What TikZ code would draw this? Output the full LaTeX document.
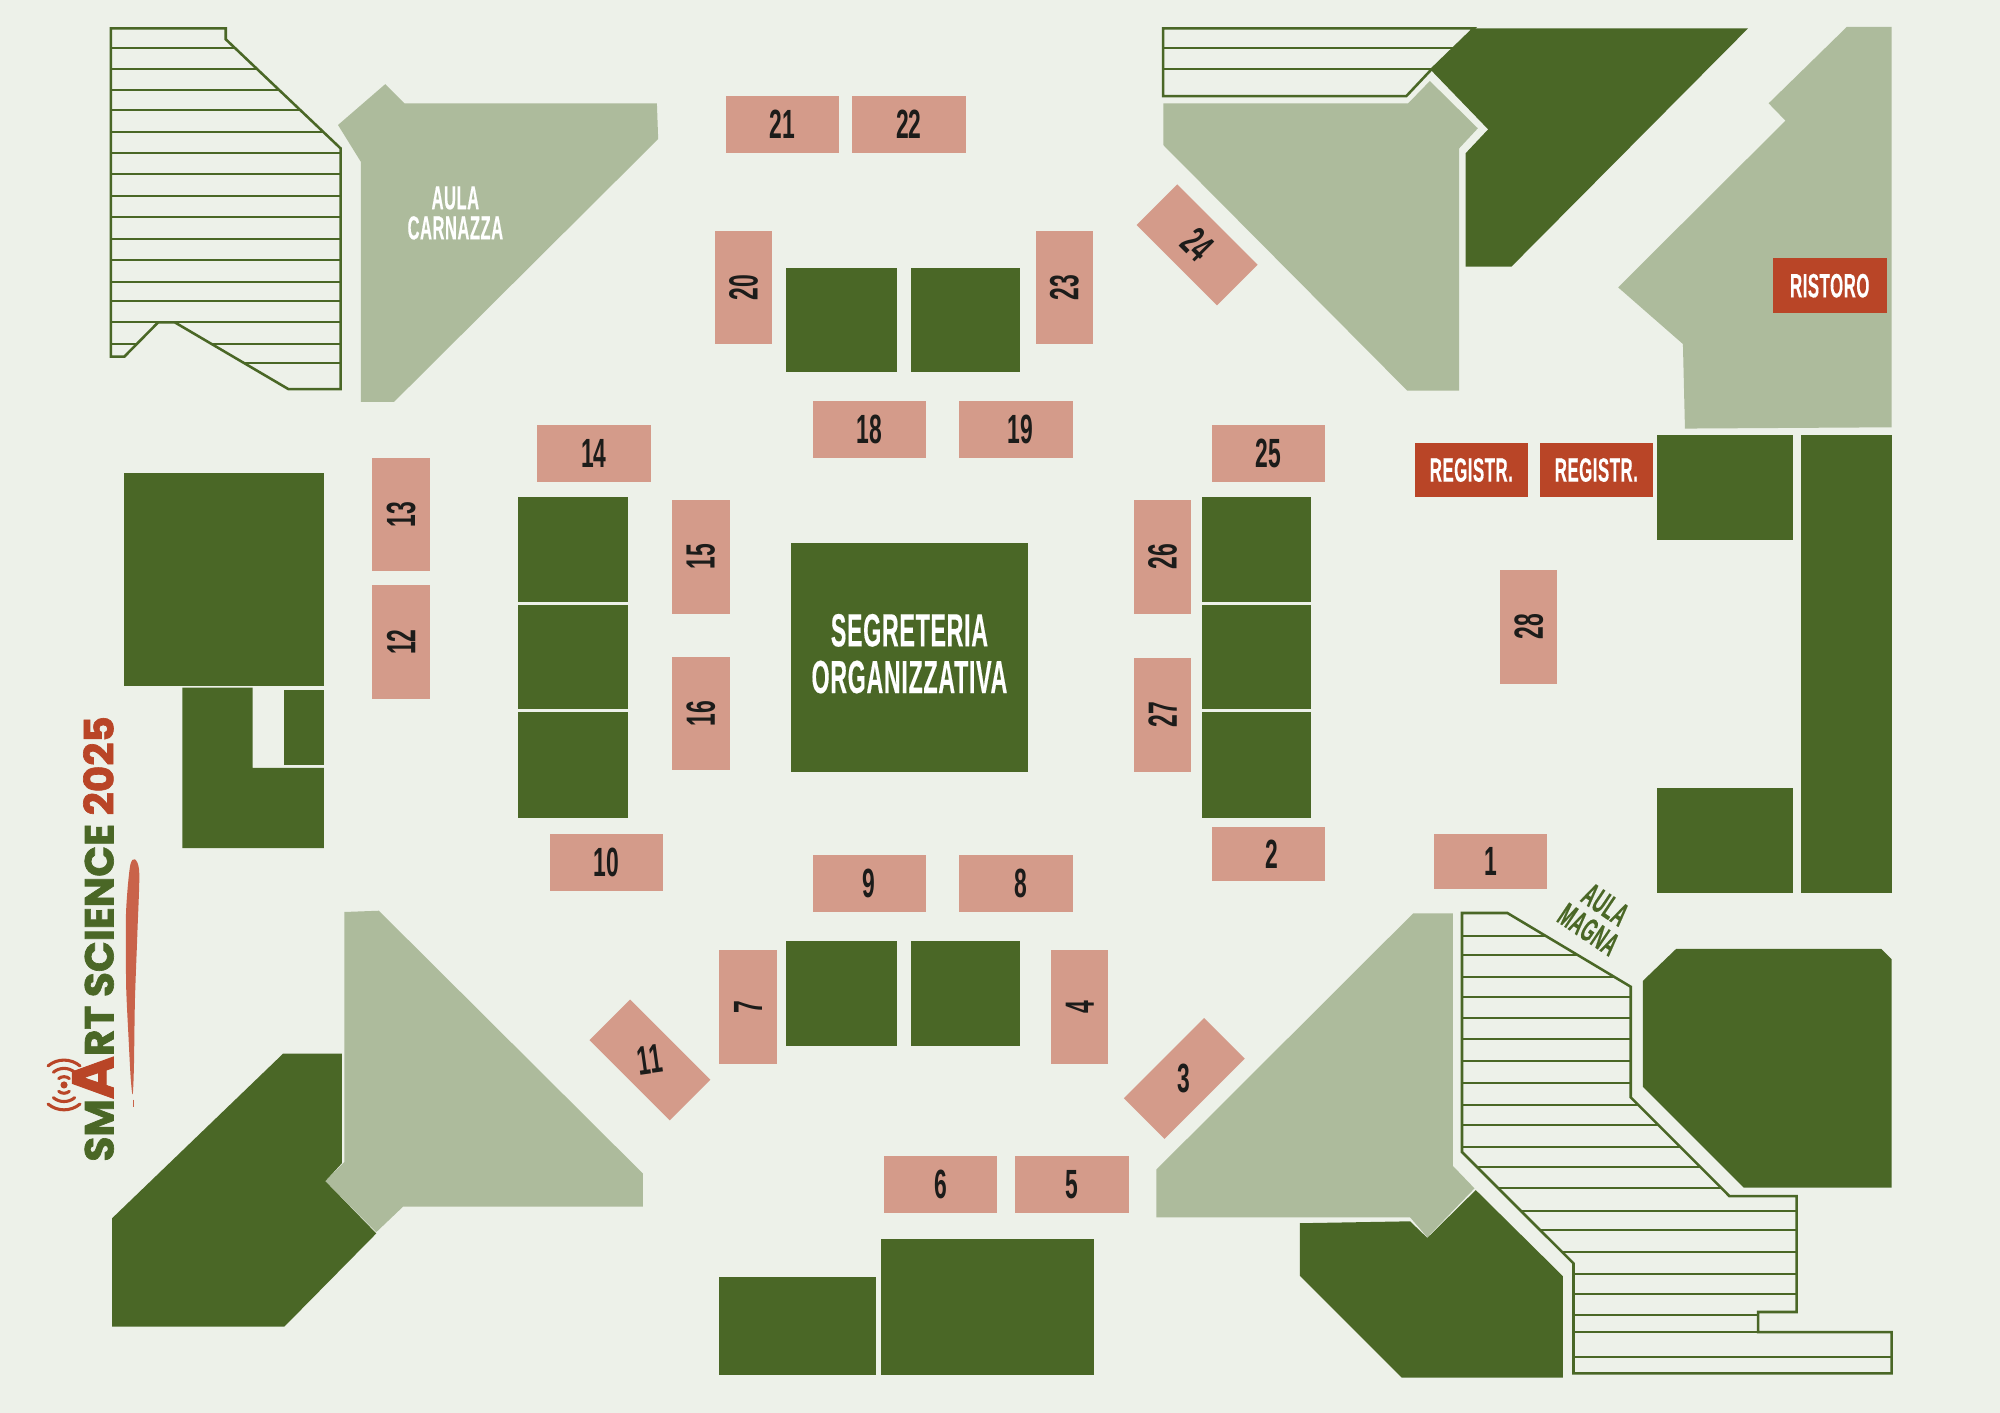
\documentclass[tikz,border=0pt]{standalone}
\usepackage{fontspec}
\usetikzlibrary{calc}
\newfontfamily\numfont[FakeStretch=0.56]{Liberation Sans}
\newfontfamily\narrowfont[UprightFont=* Bold,FakeStretch=0.5,FakeBold=.3,LetterSpace=1.5]{Liberation Sans}
\newfontfamily\logofont[UprightFont=* Bold,FakeBold=1.6]{Poppins}
\definecolor{paper}{HTML}{EDF1E9}
\definecolor{darkgreen}{HTML}{4A6726}
\definecolor{sage}{HTML}{ADBB9C}
\definecolor{salmon}{HTML}{D49B8A}
\definecolor{brick}{HTML}{B94527}
\definecolor{brush}{HTML}{C9634A}
\definecolor{ink}{HTML}{1C1C1A}
\tikzset{
  room/.style={fill=darkgreen},
  hall/.style={fill=sage},
  seats/.style={draw=darkgreen,line width=1pt,line join=miter},
  row/.style={draw=darkgreen,line width=.8pt},
  stand/.style={fill=salmon,text=ink,inner sep=0pt,minimum width=44.5pt,minimum height=22.5pt,
    font=\numfont\bfseries\fontsize{16}{16}\selectfont},
  service/.style={fill=brick,text=white,inner sep=0pt,minimum width=44.5pt,minimum height=21.5pt,
    font=\narrowfont\fontsize{13.2}{13.2}\selectfont},
  hallname/.style={align=center,font=\narrowfont\fontsize{13}{11.8}\selectfont},
}
\begin{document}
\begin{tikzpicture}[x=0.5pt,y=-0.5pt]
\useasboundingbox (0,0) rectangle (1568,1107.7);
\fill[paper] (0,0) rectangle (1568,1107.7);

% halls
\fill[hall] (302,66) -- (317,81) -- (515,81) -- (516,109) -- (309,315) -- (283,315) -- (283,127) -- (265,98) -- cycle;
\fill[hall] (912,81) -- (1104,81) -- (1121,63.5) -- (1158.6,100.6) -- (1144,116.3) -- (1144,306.3) -- (1103.3,306.3) -- (912,113.7) -- cycle;
\fill[hall] (1448,21) -- (1483,21) -- (1483,335) -- (1321,336) -- (1319.4,269.7) -- (1268.6,225.3) -- (1399.8,94.6) -- (1386.6,81) -- cycle;
\fill[hall] (270,715) -- (297,714) -- (504,920) -- (504,946) -- (316,946) -- (295,966) -- (255,926) -- (270,911) -- cycle;
\fill[hall] (1108,716) -- (1139,716) -- (1139,914) -- (1156,931.7) -- (1119,970) -- (1105.5,954.4) -- (906.5,954.4) -- (906.5,917) -- cycle;

% rooms
\foreach \xa/\ya/\xb/\yb in {616/210/703/292,714/210/800/292,406/390/492/472,406/474/492/556,406/558/492/641,
  942/390/1028/472,942/474/1028/556,942/558/1028/641,616/738/703/820,714/738/800/820,
  1299/341/1406/423,1412/341/1483/700,1299/618/1406/700,564/1001/687/1078,691/971/858/1078,
  97/371/254/538,223/541/254/600}{%
\fill[room] (\xa,\ya) rectangle (\xb,\yb);
}
\fill[room] (143,539) -- (198,539) -- (198,602) -- (254,602) -- (254,665) -- (143,665) -- cycle;
\fill[room] (1155.6,22.2) -- (1370.5,22.2) -- (1185,209) -- (1149,209) -- (1149,120.2) -- (1166.7,101.4) -- (1121.8,54.9) -- cycle;
\fill[room] (222,826) -- (268,826) -- (268,912) -- (255,926) -- (295,967) -- (223,1040) -- (88,1040) -- (88,955) -- cycle;
\fill[room] (1314,744) -- (1475,744) -- (1483,752) -- (1483,931) -- (1367,931) -- (1288,852) -- (1288,769) -- cycle;
\fill[room] (1019,959) -- (1105.5,957.5) -- (1119,970.5) -- (1157,933) -- (1225.2,1000.4) -- (1225.2,1080) -- (1099,1080) -- (1019,1000) -- cycle;
\node[fill=darkgreen,inner sep=0pt,minimum width=93pt,minimum height=89.5pt] (office) at (713,515.5) {};
\node[text=white,inner sep=0pt,align=center,font=\narrowfont\fontsize{18.2}{18.3}\selectfont] (officename) at (713,512.5) {SEGRETERIA\\ORGANIZZATIVA};

% seating
\def\seatsnw{(87,22.2) -- (177,22.2) -- (177,30.8) -- (267,116.3) -- (267,305) -- (226,305) -- (137,252.7) -- (124,252.7) -- (97.5,279.6) -- (87,279.6) -- cycle}
\def\seatsne{(911.8,22.2) -- (1155.6,22.2) -- (1121.8,54.9) -- (1102.6,75.3) -- (911.8,75.3) -- cycle}
\def\seatsse{(1146.2,715.8) -- (1181.8,715.8) -- (1278.5,773.6) -- (1278.5,860.3) -- (1355.8,937.7) -- (1408.6,937.7) -- (1408.6,1028.6) -- (1378.3,1028.6) -- (1378.3,1044.3) -- (1483,1044.3) -- (1483,1076.7) -- (1233.6,1076.7) -- (1233.6,990.5) -- (1146.2,903.2) -- cycle}

\begin{scope}
\clip \seatsnw;
\foreach \y in {37.9,54.1,70.3,86.2,103.2,120.2,136.7,153.7,170.4,187.1,203.8,221.1,235.7,252.5,269.7,284.8}{%
\draw[row] (87,\y) -- (267,\y);
}
\end{scope}
\draw[seats] \seatsnw;

\begin{scope}
\clip \seatsne;
\foreach \y in {37.9,54.3}{%
\draw[row] (911,\y) -- (1156,\y);
}
\end{scope}
\draw[seats] \seatsne;

\begin{scope}
\clip \seatsse;
\foreach \y in {733.8,748.4,765.7,781.9,798.1,814.8,831.8,849,866.6,882.2,899.5,915.2,931.6,949.1,964.3,981.3,998.8,1014.7,1030.7,1044.3,1064.1}{%
\draw[row] (1146,\y) -- (1483,\y);
}
\end{scope}
\draw[seats] \seatsse;

% stands
\foreach \cx/\cy/\rot/\num in {613.5/97.5/0/21,712.5/97.5/0/22,681.5/336.5/0/18,465.5/355.5/0/14,
  994.5/355.5/0/25,475.5/676/0/10,681.5/692.5/0/9,737.5/928.5/0/6,840.5/928.5/0/5,
  583/225.5/90/20,834.5/225.5/90/23,314.5/403.5/90/13,314.5/503.5/90/12,549.5/436.5/90/15,549.5/559.5/90/16,
  911.5/436.5/90/26,911.5/560.5/90/27,1198.5/491.5/90/28,586.5/789.5/90/7,846.5/789.5/90/4,
  938.5/192/-45/24}{%
\node[stand,rotate=\rot] (s\num) at (\cx,\cy) {\num};
}
\node[stand] (s19) at (796.5,336.5) {\hspace{3.5pt}19};
\node[stand] (s8) at (796.5,692.5) {\hspace{3.5pt}8};
\node[stand,minimum height=21.5pt] (s2) at (994.5,669.5) {\hspace{3pt}2};
\node[stand,minimum height=21.5pt] (s1) at (1168.5,675.5) {1};
\node[stand,rotate=-45] (s11) at (509.5,831) {\rotatebox{53}{11}};
\node[stand,rotate=45] (s3) at (928.5,845.5) {\rotatebox{-45}{3}};

\node[service] (reg1) at (1153.5,368.5) {REGISTR.};
\node[service] (reg2) at (1251.5,368.5) {REGISTR.};
\node[service] (food) at (1434.5,224) {RISTORO};

% hall names
\node[hallname,text=white] (carnazza) at (357,167) {AULA\\CARNAZZA};
\node[hallname,text=darkgreen,rotate=-34] (magna) at (1252,719) {AULA\\MAGNA};

% logo
\node[rotate=90,anchor=base west,inner sep=0pt,text=darkgreen,font=\logofont\fontsize{15.9}{15.9}\selectfont]
  (logo) at (89,911) {SM{\color{brick}\fontsize{23}{23}\selectfont A}RT SCIENCE {\color{brick}2025}};
\coordinate (wave) at (50.2,850.6);
\fill[brick] (wave) circle (2.8);
\foreach \r in {6.5,13,19.5}{%
\draw[brick,line width=1.2pt,line cap=round] ($(wave)+(50:\r)$) arc (50:130:\r);
\draw[brick,line width=1.2pt,line cap=round] ($(wave)+(-50:\r)$) arc (-50:-130:\r);
}
\fill[brush] plot[smooth cycle] coordinates {(105.8,673.7) (101.9,679.5) (98.8,716) (98.8,765.7) (99.3,784) (100.6,810.1) (102.4,844.1) (104,858) (105,836.3) (105.8,784) (107.7,731.7) (109.2,684.7)};
\draw[brush,line width=.4pt] (104.5,862) -- (104.5,868);

\end{tikzpicture}
\end{document}
